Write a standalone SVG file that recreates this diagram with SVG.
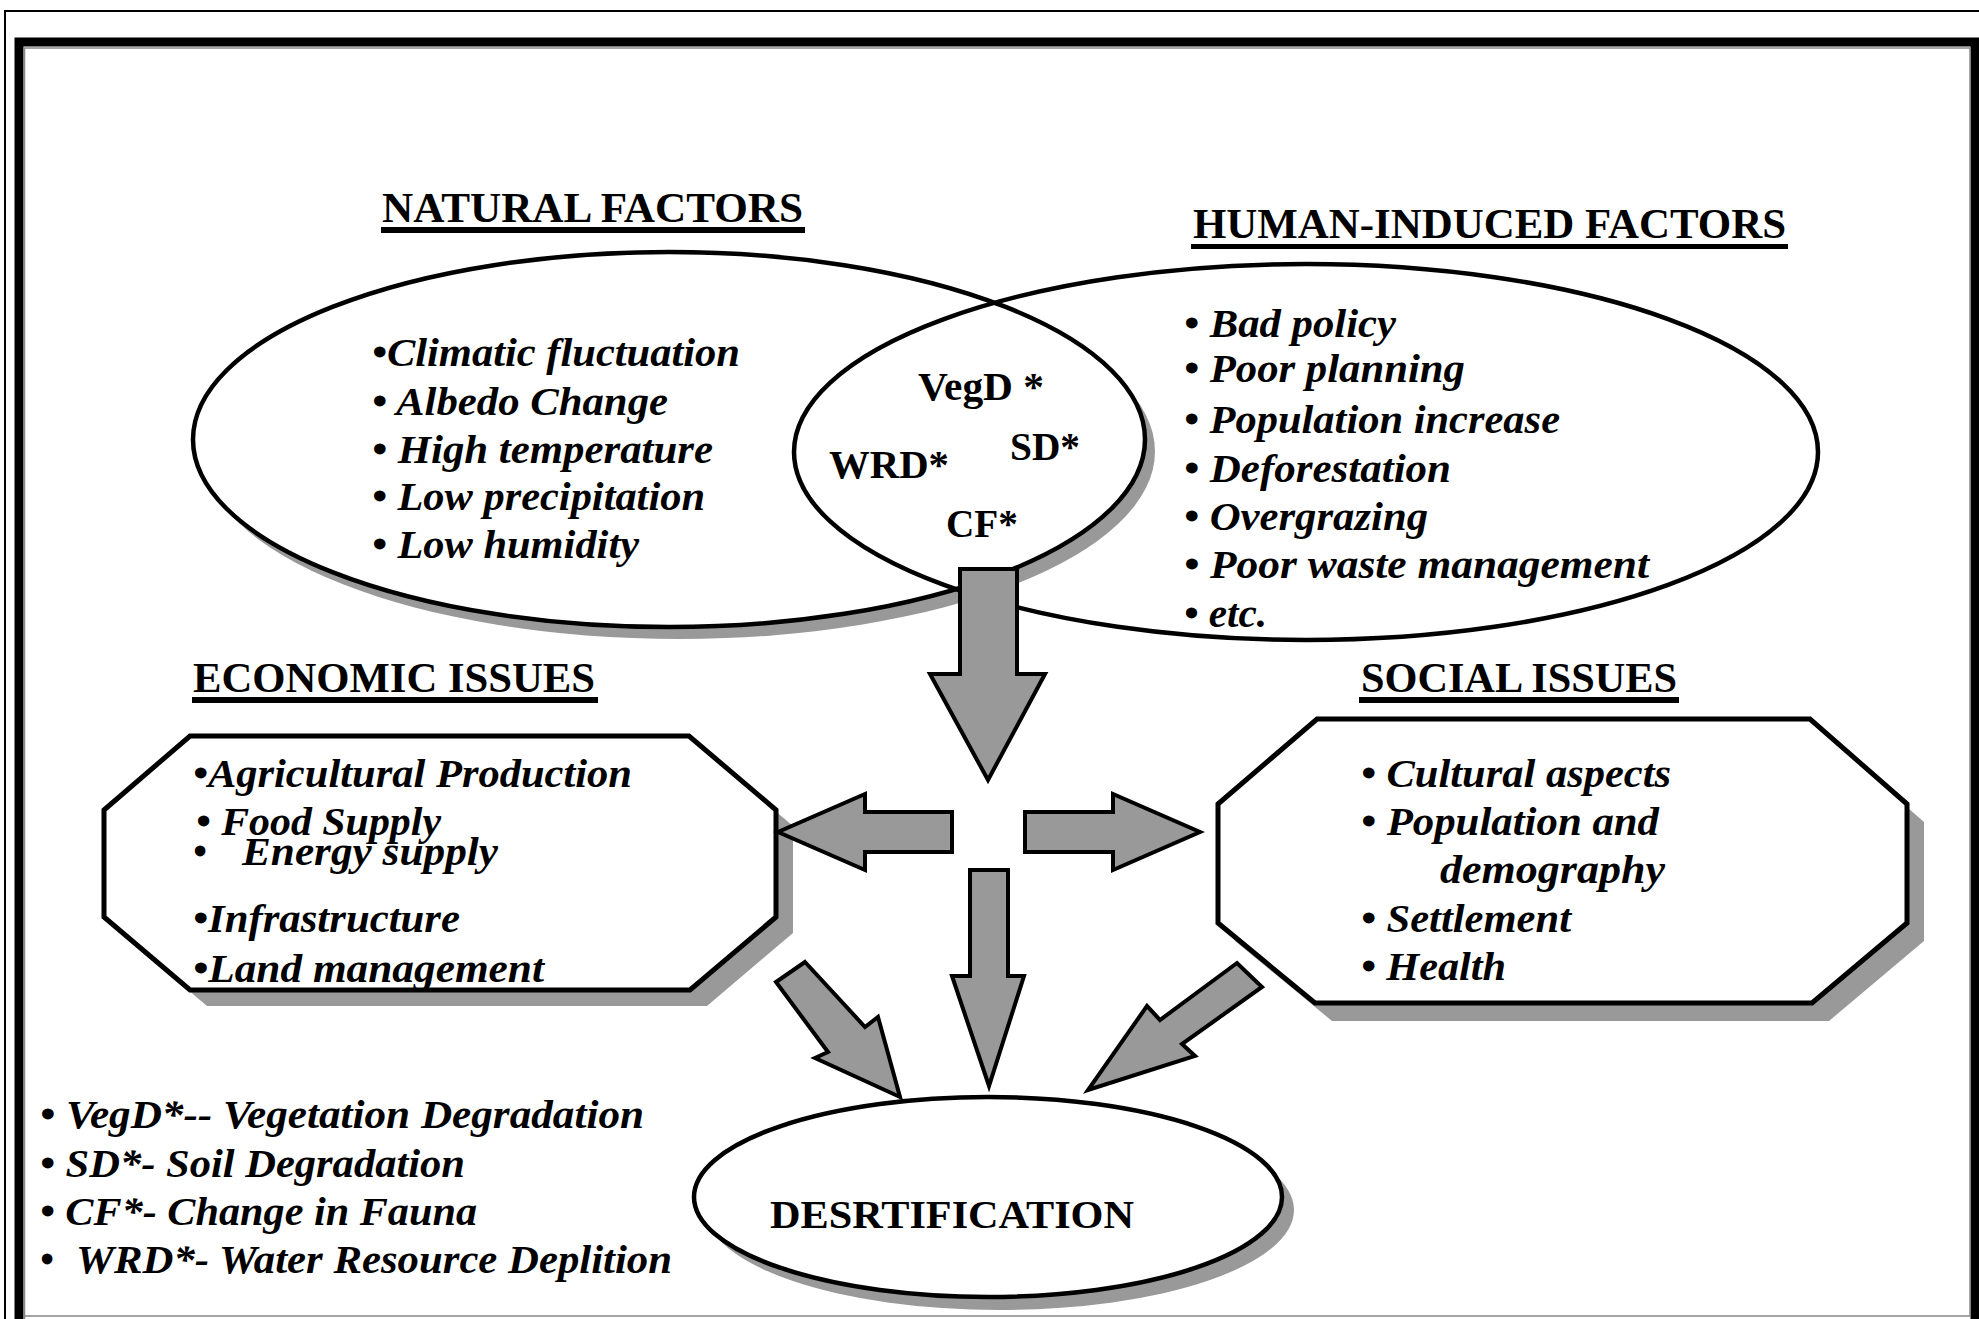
<svg xmlns="http://www.w3.org/2000/svg" width="1979" height="1319" viewBox="0 0 1979 1319">
<style>
.hd{font-family:"Liberation Serif","Times New Roman",serif;font-weight:bold;font-size:42px;fill:#000}
.it{font-family:"Liberation Serif","Times New Roman",serif;font-weight:bold;font-style:italic;font-size:39px;fill:#000}
.bd{font-family:"Liberation Serif","Times New Roman",serif;font-weight:bold;font-size:40px;fill:#000}
.ul{fill:#000}
.shadow{fill:#999999;stroke:none}
.shape{fill:#fff;stroke:#000;stroke-width:5}
.arrow{fill:#999999;stroke:#000;stroke-width:4;stroke-linejoin:miter}
</style>
<rect x="0" y="0" width="1979" height="1319" fill="#fff"/>
<g id="frame">
<path d="M5,1319 V11 H1979" fill="none" stroke="#000" stroke-width="2"/>
<path d="M19,1319 V42 H1975 V1319" fill="none" stroke="#000" stroke-width="9"/>
<path d="M24.5,1319 V48 H1970 V1316 H24.5" fill="none" stroke="#888" stroke-width="1.5"/>
</g>
<g id="natural-factors">
<ellipse class="shadow" cx="679" cy="451.5" rx="476" ry="187.5"/>
<ellipse cx="669" cy="439.5" rx="476" ry="187.5" fill="#fff" stroke="#000" stroke-width="4.5"/>
<text class="hd" x="382" y="222" textLength="421" lengthAdjust="spacingAndGlyphs">NATURAL FACTORS</text>
<rect class="ul" x="381" y="227" width="424" height="6"/>
<text class="it" x="372" y="366" textLength="368" lengthAdjust="spacingAndGlyphs">•Climatic fluctuation</text>
<text class="it" x="372" y="415" textLength="296" lengthAdjust="spacingAndGlyphs">• Albedo Change</text>
<text class="it" x="372" y="463" textLength="341" lengthAdjust="spacingAndGlyphs">• High temperature</text>
<text class="it" x="372" y="510" textLength="333" lengthAdjust="spacingAndGlyphs">• Low precipitation</text>
<text class="it" x="372" y="558" textLength="267" lengthAdjust="spacingAndGlyphs">• Low humidity</text>
</g>
<g id="human-induced-factors">
<ellipse cx="1306" cy="452" rx="512" ry="188" fill="none" stroke="#000" stroke-width="4.5"/>
<text class="hd" x="1193" y="238" textLength="593" lengthAdjust="spacingAndGlyphs">HUMAN-INDUCED FACTORS</text>
<rect class="ul" x="1191" y="244" width="597" height="5"/>
<text class="it" x="1184" y="337" textLength="212" lengthAdjust="spacingAndGlyphs">• Bad policy</text>
<text class="it" x="1184" y="382" textLength="281" lengthAdjust="spacingAndGlyphs">• Poor planning</text>
<text class="it" x="1184" y="433" textLength="376" lengthAdjust="spacingAndGlyphs">• Population increase</text>
<text class="it" x="1184" y="482" textLength="267" lengthAdjust="spacingAndGlyphs">• Deforestation</text>
<text class="it" x="1184" y="530" textLength="244" lengthAdjust="spacingAndGlyphs">• Overgrazing</text>
<text class="it" x="1184" y="578" textLength="465" lengthAdjust="spacingAndGlyphs">• Poor waste management</text>
<text class="it" x="1184" y="627" textLength="83" lengthAdjust="spacingAndGlyphs">• etc.</text>
</g>
<g id="overlap">
<text class="bd" x="918" y="400" textLength="126" lengthAdjust="spacingAndGlyphs">VegD *</text>
<text class="bd" x="829" y="478" textLength="120" lengthAdjust="spacingAndGlyphs">WRD*</text>
<text class="bd" x="1010" y="460" textLength="70" lengthAdjust="spacingAndGlyphs">SD*</text>
<text class="bd" x="946" y="537" textLength="72" lengthAdjust="spacingAndGlyphs">CF*</text>
</g>
<g id="economic-issues">
<text class="hd" x="193" y="692" textLength="402" lengthAdjust="spacingAndGlyphs">ECONOMIC ISSUES</text>
<rect class="ul" x="192" y="697" width="406" height="6"/>
<polygon class="shadow" points="190,736 689,736 776,810 776,917 690,990 190,990 104,917 104,810" transform="translate(17,16)"/>
<polygon class="shape" points="190,736 689,736 776,810 776,917 690,990 190,990 104,917 104,810"/>
<text class="it" x="193" y="787" textLength="439" lengthAdjust="spacingAndGlyphs">•Agricultural Production</text>
<text class="it" x="196" y="835" textLength="245" lengthAdjust="spacingAndGlyphs">• Food Supply</text>
<text class="it" x="193" y="865">•</text>
<text class="it" x="242" y="865" textLength="256" lengthAdjust="spacingAndGlyphs">Energy supply</text>
<text class="it" x="193" y="932" textLength="267" lengthAdjust="spacingAndGlyphs">•Infrastructure</text>
<text class="it" x="193" y="982" textLength="351" lengthAdjust="spacingAndGlyphs">•Land management</text>
</g>
<g id="social-issues">
<text class="hd" x="1361" y="692" textLength="316" lengthAdjust="spacingAndGlyphs">SOCIAL ISSUES</text>
<rect class="ul" x="1359" y="697" width="320" height="6"/>
<polygon class="shadow" points="1317,719 1810,719 1907,804 1907,923 1812,1003 1315,1003 1218,923 1218,804" transform="translate(17,18)"/>
<polygon class="shape" points="1317,719 1810,719 1907,804 1907,923 1812,1003 1315,1003 1218,923 1218,804"/>
<text class="it" x="1361" y="787" textLength="310" lengthAdjust="spacingAndGlyphs">• Cultural aspects</text>
<text class="it" x="1361" y="835" textLength="298" lengthAdjust="spacingAndGlyphs">• Population and</text>
<text class="it" x="1440" y="883" textLength="225" lengthAdjust="spacingAndGlyphs">demography</text>
<text class="it" x="1361" y="932" textLength="210" lengthAdjust="spacingAndGlyphs">• Settlement</text>
<text class="it" x="1361" y="980" textLength="145" lengthAdjust="spacingAndGlyphs">• Health</text>
</g>
<g id="desertification">
<ellipse class="shadow" cx="1000" cy="1210" rx="294" ry="100"/>
<ellipse cx="988" cy="1197" rx="294" ry="100" fill="#fff" stroke="#000" stroke-width="4.5"/>
<text class="bd" x="770" y="1228" textLength="364" lengthAdjust="spacingAndGlyphs">DESRTIFICATION</text>
</g>
<g id="legend">
<text class="it" x="40" y="1128" textLength="604" lengthAdjust="spacingAndGlyphs">• VegD*-- Vegetation Degradation</text>
<text class="it" x="40" y="1177" textLength="425" lengthAdjust="spacingAndGlyphs">• SD*- Soil Degradation</text>
<text class="it" x="40" y="1225" textLength="437" lengthAdjust="spacingAndGlyphs">• CF*- Change in Fauna</text>
<text class="it" x="40" y="1273">•</text>
<text class="it" x="76" y="1273" textLength="596" lengthAdjust="spacingAndGlyphs">WRD*- Water Resource Deplition</text>
</g>
<g id="connectors">
<polygon class="arrow" points="960,569 1017,569 1017,674 1045,674 988,780 930,674 960,674"/>
<polygon class="arrow" points="952,812 952,852 865,852 865,870 778,832 865,794 865,812"/>
<polygon class="arrow" points="1025,812 1113,812 1113,794 1200,832 1113,870 1113,852 1025,852"/>
<polygon class="arrow" points="970,870 1008,870 1008,976 1024,976 989,1086 952,976 970,976"/>
<polygon class="arrow" points="805,962 865,1027 878,1017 900,1097 815,1058 828,1052 776,982"/>
<polygon class="arrow" points="1237,963 1160,1020 1147,1006 1088,1090 1195,1056 1182,1044 1262,987"/>
</g>
</svg>
